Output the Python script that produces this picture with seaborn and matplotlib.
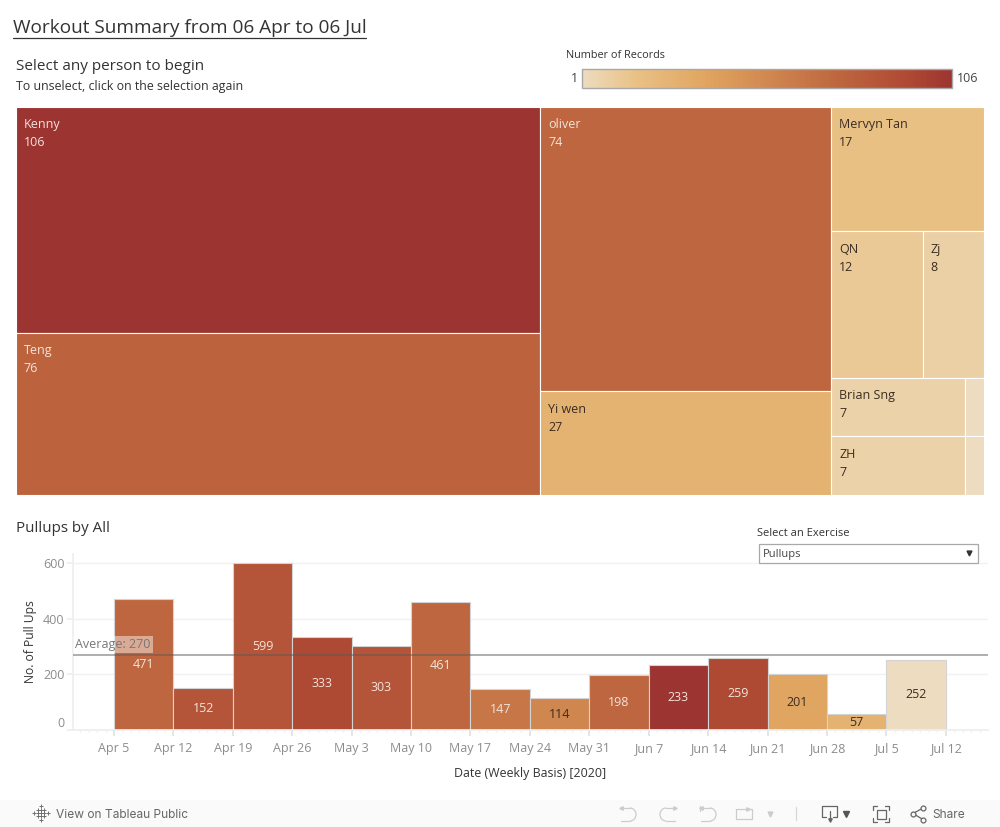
import numpy as np
import pandas as pd
import matplotlib
matplotlib.use("Agg")
import matplotlib.pyplot as plt
from matplotlib.cm import ScalarMappable
from matplotlib.colors import LinearSegmentedColormap, Normalize
from matplotlib.patches import Rectangle, Arc
import seaborn as sns

# treemap values
people = ["Kenny", "Teng", "oliver", "Yi wen", "Mervyn Tan", "QN", "Zj", "Brian Sng", "ZH", "", ""]
records = [106, 76, 74, 27, 17, 12, 8, 7, 7, 1, 1]
# how the cells nest: (split direction, children)
tree = ("h", [("v", [0, 1]), ("v", [2, 3]),
              ("v", [4, ("h", [5, 6]), ("v", [("h", [7, 9]), ("h", [8, 10])])])])

# weekly bars
weeks = ["Apr 5", "Apr 12", "Apr 19", "Apr 26", "May 3", "May 10", "May 17",
         "May 24", "May 31", "Jun 7", "Jun 14", "Jun 21", "Jun 28", "Jul 5"]
pullups = [471, 152, 599, 333, 303, 461, 147, 114, 198, 233, 259, 201, 57, 252]
week_records = [74, 86, 86, 94, 86, 74, 64, 55, 74, 106, 94, 36, 27, 1]
tick_labels = weeks + ["Jul 12"]
average = 270

LIGHT = "#f3e4da"
DARK = "#3a2d22"
GREY = "#8c8c8c"
INK = "#333333"

sns.set_theme(style="white")
plt.rcParams["font.family"] = ["Open Sans", "DejaVu Sans"]

cmap = LinearSegmentedColormap.from_list("records", [
    (0, "#eddcbf"), (0.15, "#e9c084"), (0.34, "#e0a45f"),
    (0.70, "#bd653e"), (0.89, "#ae4833"), (1, "#9c3431")])
norm = Normalize(1, 106)


def shade(v):
    return cmap(norm(v))


fig = plt.figure(figsize=(10, 8.27), dpi=100, facecolor="white")


def box(left, top, right, bottom):
    return [left / 1000, 1 - bottom / 827, (right - left) / 1000, (bottom - top) / 827]


# treemap
ax_tree = fig.add_axes(box(15.7, 107, 983.7, 495))
ax_tree.set_xlim(0, 968)
ax_tree.set_ylim(388, 0)
ax_tree.axis("off")


def weight(node):
    if isinstance(node, int):
        return records[node]
    return sum(weight(n) for n in node[1])


def draw(node, x, y, w, h):
    if isinstance(node, int):
        ax_tree.bar(x, h, w, bottom=y, align="edge", color=shade(records[node]),
                    edgecolor="white", linewidth=0.8)
        col = LIGHT if records[node] > 60 else DARK
        if people[node]:
            ax_tree.text(x + 8, y + 18, people[node], color=col, fontsize=9, va="center")
            ax_tree.text(x + 8, y + 36, str(records[node]), color=col, fontsize=9, va="center")
        return
    total = weight(node)
    for child in node[1]:
        share = weight(child) / total
        if node[0] == "h":
            draw(child, x, y, w * share, h)
            x += w * share
        else:
            draw(child, x, y, w, h * share)
            y += h * share


draw(tree, 0, 0, 968, 388)

# colour legend
cax = fig.add_axes(box(582, 69, 952, 88))
cb = fig.colorbar(ScalarMappable(norm=norm, cmap=cmap), cax=cax, orientation="horizontal")
cb.set_ticks([])
cb.outline.set_edgecolor("#a8a8a8")
cb.outline.set_linewidth(1)

# weekly bars
ax = fig.add_axes(box(73, 554, 988, 730))
df = pd.DataFrame({"week": weeks, "pullups": pullups})
palette = {w: shade(r) for w, r in zip(weeks, week_records)}
sns.barplot(data=df, x="week", y="pullups", hue="week", palette=palette, saturation=1,
            width=1, legend=False, edgecolor="#d4d4d4", linewidth=0.8, ax=ax, zorder=2)
for cont, r in zip(ax.containers, week_records):
    for lab in ax.bar_label(cont, label_type="center", fontsize=9):
        lab.set_color(LIGHT if r > 60 else DARK)

ax.set_xticks(np.arange(len(tick_labels)) - 0.5, tick_labels)
ax.set_yticks([0, 200, 400, 600])
ax.set_xticks(np.arange(-8, 106) / 7 - 0.5, minor=True)
ax.set_xlim(-1.19, 14.21)
ax.set_ylim(0, 632)
ax.tick_params(axis="x", which="minor", length=1.5, color="#eeeeee", bottom=True)
ax.tick_params(axis="x", which="major", length=4, color="#e2e2e2", labelsize=9,
               labelcolor=GREY, pad=4.5, bottom=True)
ax.tick_params(axis="y", length=4, color="#eeeeee", labelsize=9, labelcolor=GREY, pad=2, left=True)
ax.get_yticklabels()[0].set_va("bottom")
ax.grid(axis="y", color="#f1f1f1", linewidth=1)
ax.set_axisbelow(True)
for side in ["top", "right"]:
    ax.spines[side].set_visible(False)
for side in ["left", "bottom"]:
    ax.spines[side].set_color("#eeeeee")
ax.set_xlabel("Date (Weekly Basis) [2020]", fontsize=8.9, color=INK, labelpad=8.5)
ax.set_ylabel("No. of Pull Ups", fontsize=8.7, color=INK, labelpad=4.5)
ax.axhline(average, color="#5a5a5a", alpha=0.55, linewidth=1.25, zorder=4)
ax.annotate(f"Average: {average}", (0, average), xycoords=("axes fraction", "data"),
            xytext=(1.5, 5), textcoords="offset points", fontsize=9, color="#777777", zorder=5,
            bbox=dict(facecolor="white", edgecolor="none", alpha=0.45, pad=1.5))

# overlay in pixel coordinates for titles, filter box and toolbar
ov = fig.add_axes([0, 0, 1, 1], facecolor="none")
ov.set_xlim(0, 1000)
ov.set_ylim(827, 0)
ov.axis("off")

ov.text(13, 28, "Workout Summary from 06 Apr to 06 Jul", fontsize=13.7, color="#333333", va="center")
ov.plot([13, 366], [37.5, 37.5], color="#333333", lw=0.9)
ov.text(16, 66.5, "Select any person to begin", fontsize=11, color="#333333", va="center")
ov.text(16, 86.5, "To unselect, click on the selection again", fontsize=8.9, color="#333333", va="center")
ov.text(566, 55, "Number of Records", fontsize=7.8, color="#333333", va="center")
ov.text(574, 78.5, "1", fontsize=9, color="#444444", va="center", ha="center")
ov.text(957, 78.5, "106", fontsize=9, color="#444444", va="center")
ov.text(16, 528, "Pullups by All", fontsize=10.9, color="#333333", va="center")

ov.text(757, 533, "Select an Exercise", fontsize=8, color="#333333", va="center")
ov.add_patch(Rectangle((759, 543.5), 219, 19, facecolor="white", edgecolor="#a8a8a8", lw=0.9))
ov.text(763, 554, "Pullups", fontsize=8, color="#444444", va="center")
ov.plot([969], [553], marker="v", ms=3.5, color="#333333")

# toolbar
ov.add_patch(Rectangle((0, 800), 1000, 27, facecolor="#fafafa", edgecolor="none"))
ov.text(56.5, 814.5, "View on Tableau Public", fontsize=8.6, color="#666666", va="center",
        family=["Inter", "DejaVu Sans"])
for dx, dy, s in [(-3, -3, 3), (3, -3, 3), (-3, 3, 3), (3, 3, 3), (0, 0, 3), (-7, 0, 3),
                  (7, 0, 3), (0, -7, 3), (0, 7, 3), (-3, 0, 3), (3, 0, 3), (0, -3, 3), (0, 3, 3)]:
    ov.plot([41 + dx], [813 + dy], marker="+", ms=s, mew=0.7, color="#707070")

soft = "#cccccc"
dark = "#666666"
for x0, sign in [(620, 1), (676, -1), (700, 1)]:
    mid = x0 + sign * 10
    ov.plot([x0, mid], [808, 808], color=soft, lw=0.9)
    ov.plot([x0 + sign, mid], [821, 821], color=soft, lw=0.9)
    ov.add_patch(Arc((mid, 814.5), 12, 13, theta1=-90 if sign > 0 else 90,
                     theta2=90 if sign > 0 else 270, color=soft, lw=0.9))
    ov.plot([x0 + sign], [808], marker="<" if sign > 0 else ">", ms=2.5, color=soft)
ov.plot([700, 700], [806, 811], color=soft, lw=0.9)
ov.add_patch(Rectangle((736, 809), 16, 10, facecolor="none", edgecolor=soft, lw=0.9))
ov.plot([748], [809], marker=">", ms=2.5, color=soft)
ov.plot([770], [814], marker="v", ms=3.5, color=soft)
ov.plot([796, 796], [807, 820], color="#d8d8d8", lw=0.9)
ov.plot([825.5, 822, 822, 837, 837, 833], [817, 817, 806, 806, 817, 817], color=dark, lw=0.9)
ov.plot([829.5, 829.5], [811, 820], color=dark, lw=0.9)
ov.plot([829.5], [820], marker="v", ms=2.5, color=dark)
ov.plot([846], [813.5], marker="v", ms=3.8, color="#555555")
ov.plot([873, 873, 877], [810, 806, 806], color=dark, lw=0.9)
ov.plot([885, 889, 889], [806, 806, 810], color=dark, lw=0.9)
ov.plot([873, 873, 877], [818, 822, 822], color=dark, lw=0.9)
ov.plot([885, 889, 889], [822, 822, 818], color=dark, lw=0.9)
ov.add_patch(Rectangle((877, 810), 9, 9, facecolor="none", edgecolor=dark, lw=0.9))
ov.plot([923, 913, 923], [808, 813.5, 819.5], color=dark, lw=0.9)
ov.plot([923, 913, 923], [808, 813.5, 819.5], color="none", marker="o", ms=3.5,
        mfc="#fafafa", mec=dark, mew=0.9)
ov.text(932, 814.5, "Share", fontsize=8.6, color="#666666", va="center",
        family=["Inter", "DejaVu Sans"])

fig.savefig("out.png", dpi=100)
